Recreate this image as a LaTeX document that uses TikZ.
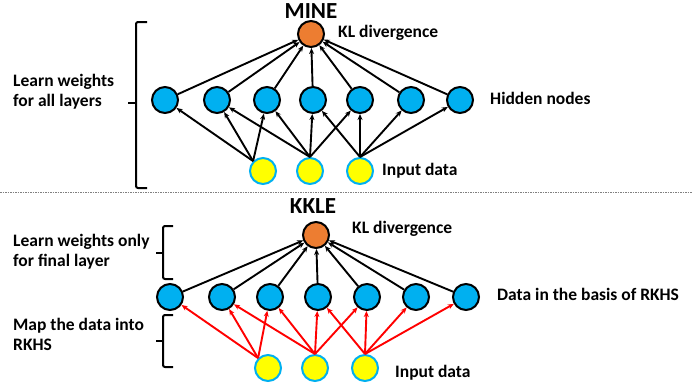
\documentclass[tikz,border=0pt]{standalone}
\usepackage{fontspec}
\setmainfont{Carlito}
\usetikzlibrary{arrows.meta}
\definecolor{hidc}{RGB}{0,176,240}
\definecolor{klc}{RGB}{237,125,49}
\definecolor{inpc}{RGB}{255,255,0}
\begin{document}
\begin{tikzpicture}[x=1pt,y=-1pt,
  hidnode/.style={circle,draw=black,fill=hidc,line width=2pt,minimum size=26pt,inner sep=0pt},
  klnode/.style={circle,draw=black,fill=klc,line width=2pt,minimum size=26pt,inner sep=0pt},
  inpnode/.style={circle,draw=hidc,fill=inpc,line width=2pt,minimum size=26pt,inner sep=0pt},
  lab/.style={anchor=west,font=\fontsize{17.5}{20}\selectfont\bfseries,align=left,inner sep=0pt},
  ttl/.style={font=\fontsize{23}{26}\selectfont\bfseries,inner sep=0pt},
  arr/.style={-{Stealth[length=6pt,width=5pt]},line width=1.9pt,black},
  rarr/.style={-{Stealth[length=6pt,width=5pt]},line width=1.9pt,red},
  bracepath/.style={line width=2pt,black,rounded corners=2pt}]
\useasboundingbox (0,0) rectangle (692,389);
% separator
\draw[gray,line width=0.6pt,dash pattern=on 1.5pt off 1pt] (0,192) -- (692,192);

% ===== MINE =====
\node[ttl] (t1) at (311,11) {MINE};
\node[klnode] (k1) at (311,34) {};
\foreach \i/\x in {1/165,2/217,3/267,4/313,5/360,6/411,7/460}
  \node[hidnode] (a\i) at (\x,100) {};
\foreach \i/\x in {1/263,2/310,3/360}
  \node[inpnode] (p\i) at (\x,171) {};
\foreach \i in {1,...,7} \draw[arr] (a\i) -- (k1);
\foreach \t in {1,2,3} \draw[arr] (p1.north west) -- (a\t);
\foreach \s/\t in {2/2,2/3,2/4,2/5,3/4,3/5,3/6,3/7}
  \draw[arr] (p\s.north) -- (a\t);
\node[lab] (l1) at (338,33) {KL divergence};
\node[lab] (l2) at (490,98) {Hidden nodes};
\node[lab] (l3) at (382,171) {Input data};
\node[lab] (l4) at (13,92) {Learn weights\\for all layers};
\draw[bracepath] (147,22) -- (136,22) -- (136,188) -- (147,188);
\draw[line width=2pt] (136,103) -- (128,103);

% ===== KKLE =====
\node[ttl] (t2) at (313,206) {KKLE};
\node[klnode] (k2) at (316,235) {};
\foreach \i/\x in {1/170,2/222,3/270,4/318,5/367,6/416,7/466}
  \node[hidnode] (b\i) at (\x,297) {};
\foreach \i/\x in {1/268,2/315,3/365}
  \node[inpnode] (q\i) at (\x,368) {};
\foreach \i in {1,...,7} \draw[arr] (b\i) -- (k2);
\foreach \t in {1,2,3} \draw[rarr] (q1.north west) -- (b\t);
\foreach \s/\t in {2/2,2/3,2/4,2/5,3/4,3/5,3/6,3/7}
  \draw[rarr] (q\s.north) -- (b\t);
\node[lab] (m1) at (352,229) {KL divergence};
\node[lab] (m2) at (497,294) {Data in the basis of RKHS};
\node[lab] (m3) at (395,373) {Input data};
\node[lab] (m4) at (13,252) {Learn weights only\\for final layer};
\node[lab] (m5) at (13,334.5) {Map the data into\\RKHS};
\draw[bracepath] (173,226) -- (163,226) -- (163,279) -- (173,279);
\draw[line width=2pt] (163,253) -- (156,253);
\draw[bracepath] (173,315) -- (163,315) -- (163,367) -- (173,367);
\draw[line width=2pt] (163,341) -- (156,341);
\end{tikzpicture}
\end{document}
